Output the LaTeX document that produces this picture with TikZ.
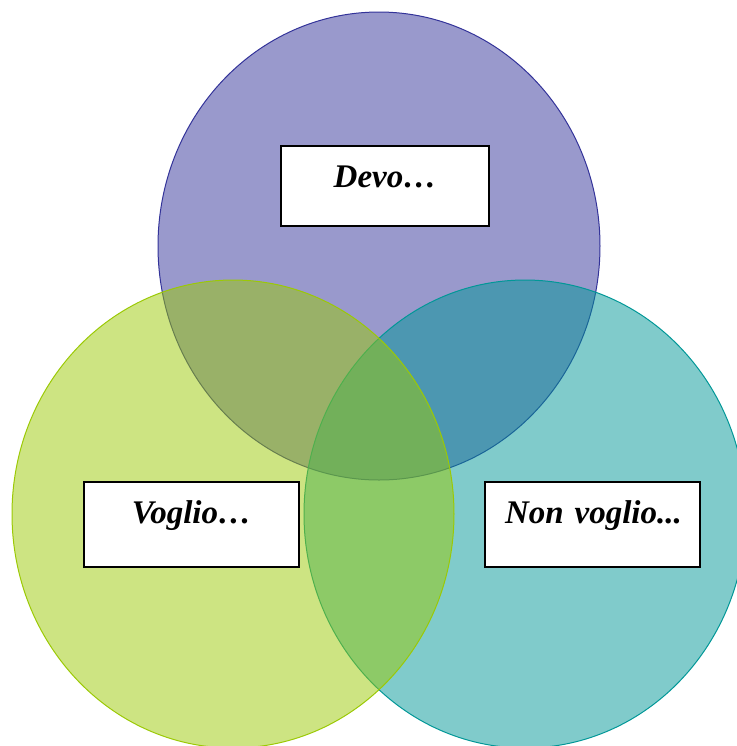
\documentclass[tikz,border=0pt]{standalone}
\usepackage{fontspec}
\setmainfont{Liberation Serif}
\definecolor{venntop}{HTML}{333399}
\definecolor{vennleft}{HTML}{9BC905}
\definecolor{vennright}{HTML}{019797}
\tikzset{
	vennset/.style={fill opacity=0.5, line width=0.5pt}
}
\tikzset{
	labelbox/.style={draw=black, fill=white, line width=0.75pt, inner sep=0pt,
	  text height=20.5pt, font=\fontsize{16.5}{20}\selectfont\bfseries\itshape}
}

\begin{document}
\begin{tikzpicture}[x=0.5pt, y=-0.5pt]
      \useasboundingbox (0,0) rectangle (737,746);
      % the three sets: top first, then right, left on top
      \draw[vennset, draw=venntop, fill=venntop] (379,246) ellipse [x radius=110.5pt, y radius=117pt];
      \draw[vennset, draw=vennright, fill=vennright] (525,514) ellipse [x radius=110.5pt, y radius=117pt];
      \draw[vennset, draw=vennleft, fill=vennleft] (233,514) ellipse [x radius=110.5pt, y radius=117pt];
      % labels
      \node[labelbox, text width=104pt, text depth=19.5pt, align=center] (devo) at (385,186) {Devo…};
      \node[labelbox, text width=107.5pt, text depth=22pt, align=center] (voglio) at (191.5,524.5) {Voglio…};
      \node[labelbox, text width=107.5pt, text depth=22pt, align=left] (nonvoglio) at (592.5,524.5) {\hspace*{10pt}Non voglio...};
    \end{tikzpicture}
\end{document}
